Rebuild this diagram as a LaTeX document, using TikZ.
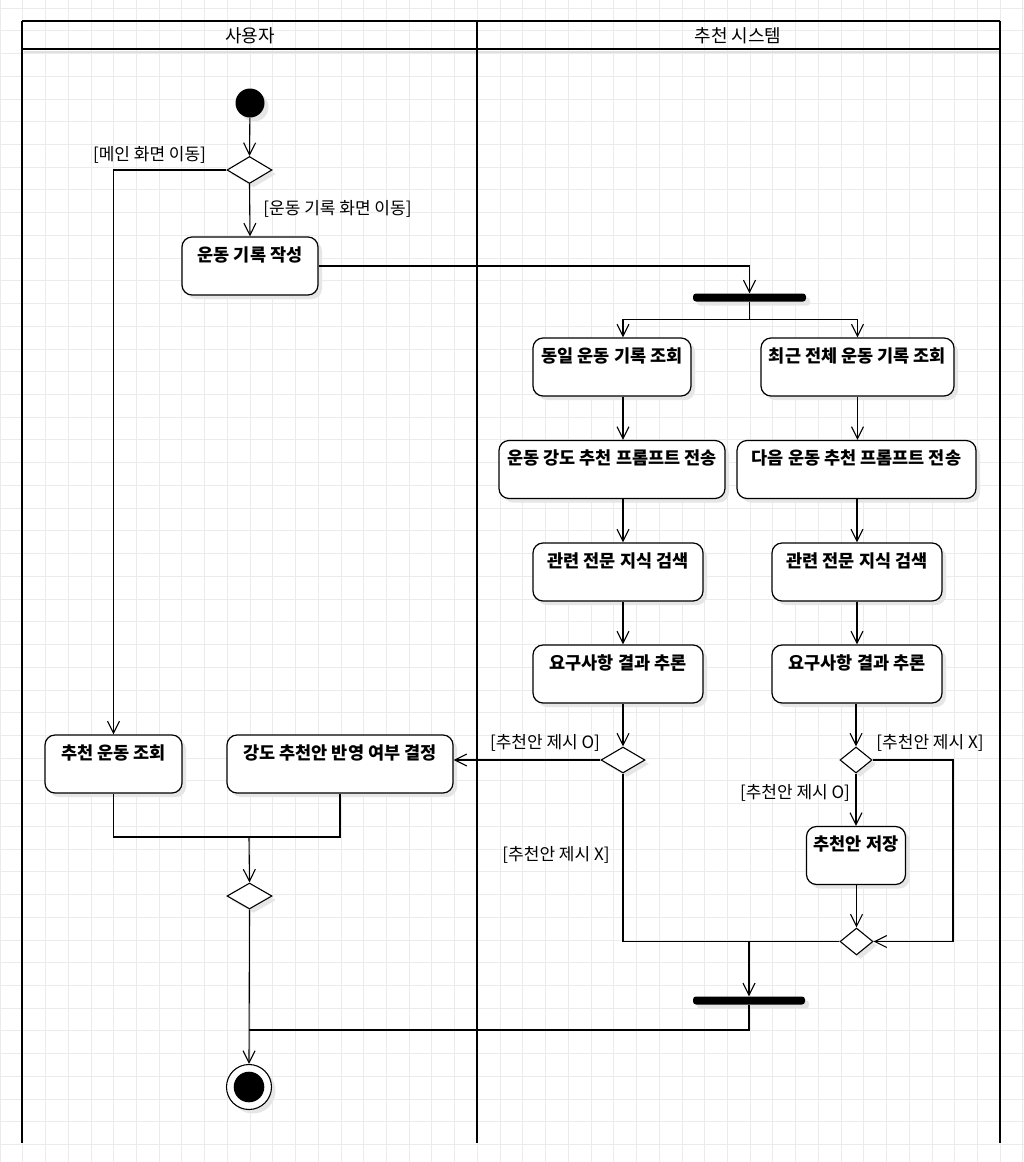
\documentclass[tikz,border=0pt]{standalone}
\usepackage{fontspec}
\setmainfont{Noto Sans CJK KR}
\usepackage{tikz}
\usetikzlibrary{arrows.meta,positioning,shapes.geometric,shadows}
\usepackage{xcolor}
\definecolor{gridc}{HTML}{EBEBEB}
\definecolor{shade}{HTML}{E6E6E6}
\tikzset{
  shd/.style={drop shadow={shadow xshift=4pt, shadow yshift=-4pt, fill=shade, opacity=1}},
  act/.style={draw, fill=white, rounded corners=10pt, line width=1.2pt, inner ysep=0pt,
    text height=24pt, text depth=34pt, minimum height=58pt, shd,
    font=\bfseries\fontsize{17.5}{19}\selectfont},
  dec/.style={diamond, draw, fill=white, line width=1.1pt, inner sep=0pt, shd},
  bar/.style={rectangle, fill=black, rounded corners=3pt, minimum width=113pt, minimum height=8pt, inner sep=0pt, shd},
  grd/.style={font=\fontsize{17}{19}\selectfont, inner sep=0pt},
  hd/.style={font=\fontsize{18}{20}\selectfont, inner sep=0pt},
  lane/.style={line width=2.8pt},
  gridline/.style={gridc, line width=0.8pt},
  arr/.style={-{Straight Barb[length=12pt, width=12pt]}, line width=1.1pt},
  ln/.style={line width=1.1pt},
}

\begin{document}
\begin{tikzpicture}[x=1pt, y=-1pt]
  \useasboundingbox (0,0) rectangle (1024,1162);
  \fill[white] (0,0) rectangle (1024,1162);
  % background grid
  \foreach \gx in {0,...,45} \draw[gridline] (\gx*22.73,0) -- (\gx*22.73,1162);
  \foreach \gy in {0,...,51} \draw[gridline] (0,8+\gy*22.73) -- (1024,8+\gy*22.73);

  % swimlanes
  \draw[black!12, line width=2pt] (24,52) -- (1000,52);
  \draw[lane] (22,21) -- (1000,21);
  \draw[line width=2pt] (22,49) -- (1000,49);
  \draw[lane] (22,21) -- (22,1143);
  \draw[lane] (477,21) -- (477,1143);
  \draw[lane] (1000,21) -- (1000,1143);
  \node[hd] (userhd) at (250,36) {사용자};
  \node[hd] (syshd) at (738,36) {추천 시스템};

  % user lane
  \node[circle, fill=black, minimum size=29pt, inner sep=0pt, shd] (start) at (250,103) {};
  \node[dec, minimum width=45pt, minimum height=27pt] (dec1) at (249.5,170) {};
  \node[act, minimum width=136pt] (write) at (250,266) {운동 기록 작성};
  \node[act, minimum width=137pt] (recv) at (113.5,764) {추천 운동 조회};
  \node[act, minimum width=226pt] (decide) at (340,764) {강도 추천안 반영 여부 결정};
  \node[dec, minimum width=45pt, minimum height=26pt] (dec3) at (249.5,896) {};
  \node[circle, draw, fill=white, line width=1.1pt, minimum size=45pt, inner sep=0pt, shd] (final) at (249,1087) {};
  \fill (final.center) circle (15.3pt);

  % system lane
  \node[bar] (fork) at (749.5,297.5) {};
  \node[act, minimum width=158pt] (same) at (612,367) {동일 운동 기록 조회};
  \node[act, minimum width=193pt] (recent) at (857.5,367) {최근 전체 운동 기록 조회};
  \node[act, minimum width=226pt] (strength) at (612,469.5) {운동 강도 추천 프롬프트 전송};
  \node[act, minimum width=239pt] (next) at (856.5,469.5) {다음 운동 추천 프롬프트 전송};
  \node[act, minimum width=170pt] (search1) at (618,572) {관련 전문 지식 검색};
  \node[act, minimum width=170pt] (search2) at (857,572) {관련 전문 지식 검색};
  \node[act, minimum width=170pt] (infer1) at (618,674) {요구사항 결과 추론};
  \node[act, minimum width=170pt] (infer2) at (857,674) {요구사항 결과 추론};
  \node[dec, minimum width=44pt, minimum height=26pt] (ldec) at (623,760) {};
  \node[dec, minimum width=32pt, minimum height=26pt] (rdec) at (856,760) {};
  \node[act, minimum width=99pt, minimum height=57pt] (save) at (856,855.5) {추천안 저장};
  \node[dec, minimum width=33pt, minimum height=27pt] (mdec) at (856.5,941.5) {};
  \node[bar, minimum width=112pt] (join) at (749,1000.5) {};

  % guard labels
  \node[grd] (g1) at (149.5,155) {[메인 화면 이동]};
  \node[grd] (g2) at (337.5,209) {[운동 기록 화면 이동]};
  \node[grd] (g3) at (545,743) {[추천안 제시 O]};
  \node[grd] (g4) at (556,855) {[추천안 제시 X]};
  \node[grd] (g5) at (930,743) {[추천안 제시 X]};
  \node[grd] (g6) at (795,793) {[추천안 제시 O]};

  \coordinate (lcol) at (623,0);
  \coordinate (rloop) at (953,0);
  \coordinate (mrg) at (249,837);
  \coordinate (meet) at (249,1030);

  % flows
  \draw[arr] (start) -- (dec1.north);
  \draw[arr] (dec1.west) -| (recv.north);
  \draw[arr] (dec1.south) -- (write.north);
  \draw[arr] (write.east) -| (fork.north);
  \draw[arr] (fork.south) -- ++(0,18) -| (same.north -| lcol);
  \draw[arr] (fork.south) -- ++(0,18) -| (recent.north);
  \draw[arr] (same.south -| lcol) -- (strength.north -| lcol);
  \draw[arr] (recent.south) -- (next.north -| recent.south);
  \draw[arr] (strength.south -| lcol) -- (search1.north -| lcol);
  \draw[arr] (next.south -| search2.north) -- (search2.north);
  \draw[arr] (search1.south -| lcol) -- (infer1.north -| lcol);
  \draw[arr] (search2.south) -- (infer2.north);
  \draw[arr] (infer1.south -| lcol) -- (ldec.north);
  \draw[arr] (infer2.south -| rdec.north) -- (rdec.north);
  \draw[arr] (ldec.west) -- (decide.east |- ldec.west);
  \draw[ln] (ldec.south) |- (mdec.west);
  \draw[arr] (join.north |- mdec.west) -- (join.north);
  \draw[arr] (rdec.south) -- (save.north -| rdec.south);
  \draw[arr] (rdec.east) -| (rloop |- mdec.east) -- (mdec.east);
  \draw[arr] (save.south -| mdec.north) -- (mdec.north);
  \draw[ln] (recv.south) |- (mrg) -| (decide.south);
  \draw[arr] (mrg) -- (dec3.north);
  \draw[arr] (dec3.south) -- (final.north);
  \draw[ln] (join.south) |- (meet);
\end{tikzpicture}
\end{document}
